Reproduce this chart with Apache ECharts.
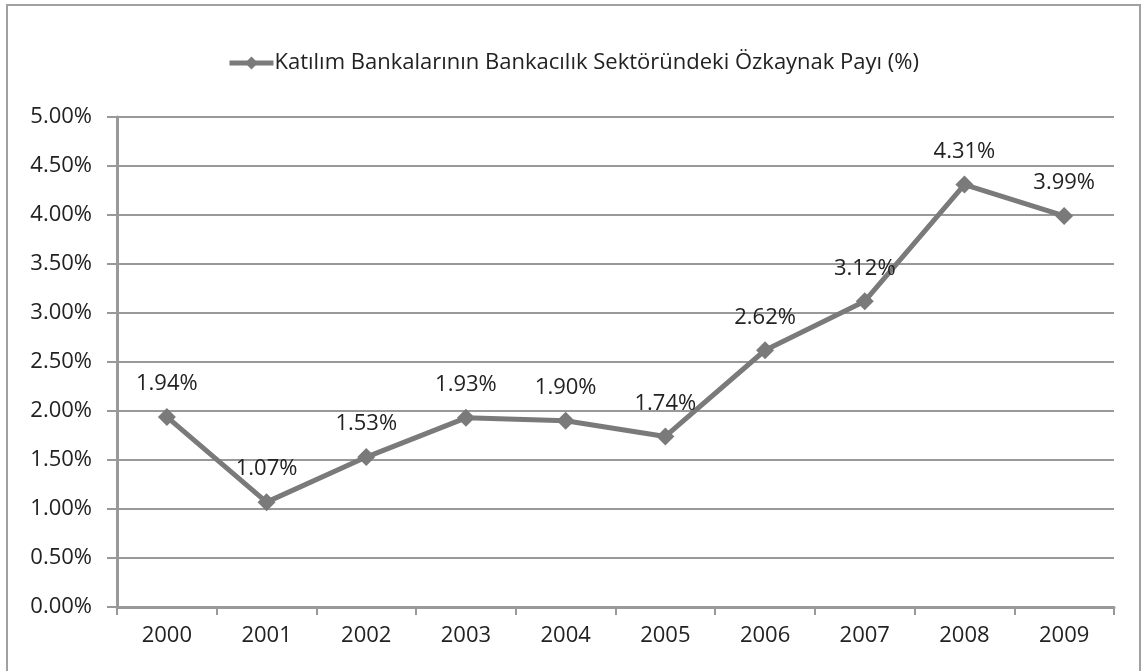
<!DOCTYPE html>
<html>
<head>
<meta charset="utf-8">
<script src="https://cdn.jsdelivr.net/npm/echarts@6/dist/echarts.min.js"></script>
<style>
    html, body { margin: 0; padding: 0; background: #fff; }
    #chart { width: 1146px; height: 671px; }
</style>
</head>
<body>
<div id="chart"></div>
<script>
// yillar ve ozkaynak paylari (%)
const years = ['2000', '2001', '2002', '2003', '2004', '2005', '2006', '2007', '2008', '2009'];
const shares = [1.94, 1.07, 1.53, 1.93, 1.90, 1.74, 2.62, 3.12, 4.31, 3.99];
const seriesName = 'Katılım Bankalarının Bankacılık Sektöründeki Özkaynak Payı (%)';

const chart = echarts.init(document.getElementById('chart'));
const font = '"Open Sans", "Noto Sans", sans-serif';
const fs = 22;

const option = {
    animation: false,
    graphic: [{
        type: 'rect',
        shape: {x: 7, y: 5, width: 1133, height: 670},
        style: {fill: 'none', stroke: '#a0a0a0', lineWidth: 2}
    }],
    legend: {
        top: 47,
        left: 'center',
        itemWidth: 44,
        itemHeight: 16,
        itemGap: 4,
        lineStyle: {width: 5, color: '#7a7a7a'},
        itemStyle: {color: '#7a7a7a'},
        textStyle: {fontFamily: font, fontSize: fs, color: '#222', padding: [0, 0, 0, -4]},
        data: [seriesName]
    },
    grid: {left: 117, right: 32, top: 117, bottom: 64},
    xAxis: {
        type: 'category',
        data: years,
        boundaryGap: true,
        axisLine: {lineStyle: {color: '#999', width: 3}},
        axisTick: {show: true, length: 8, lineStyle: {color: '#999', width: 2}},
        axisLabel: {fontFamily: font, fontSize: fs, color: '#222', margin: 18}
    },
    yAxis: {
        type: 'value',
        min: 0,
        max: 5,
        interval: 0.5,
        axisLine: {show: true, lineStyle: {color: '#999', width: 3}},
        axisTick: {show: true, length: 10, lineStyle: {color: '#999', width: 2}},
        splitLine: {lineStyle: {color: '#999', width: 2}},
        axisLabel: {
            fontFamily: font, fontSize: fs, color: '#222', margin: 25,
            formatter: v => v.toFixed(2) + '%'
        }
    },
    series: [{
        name: seriesName,
        type: 'line',
        data: shares,
        symbol: 'diamond',
        symbolSize: 18,
        lineStyle: {color: '#7a7a7a', width: 5},
        itemStyle: {color: '#7a7a7a'},
        label: {
            show: true,
            position: 'top',
            distance: 13,
            fontFamily: font,
            fontSize: fs,
            color: '#222',
            formatter: p => p.value.toFixed(2) + '%'
        }
    }]
};

chart.setOption(option);
</script>
</body>
</html>
